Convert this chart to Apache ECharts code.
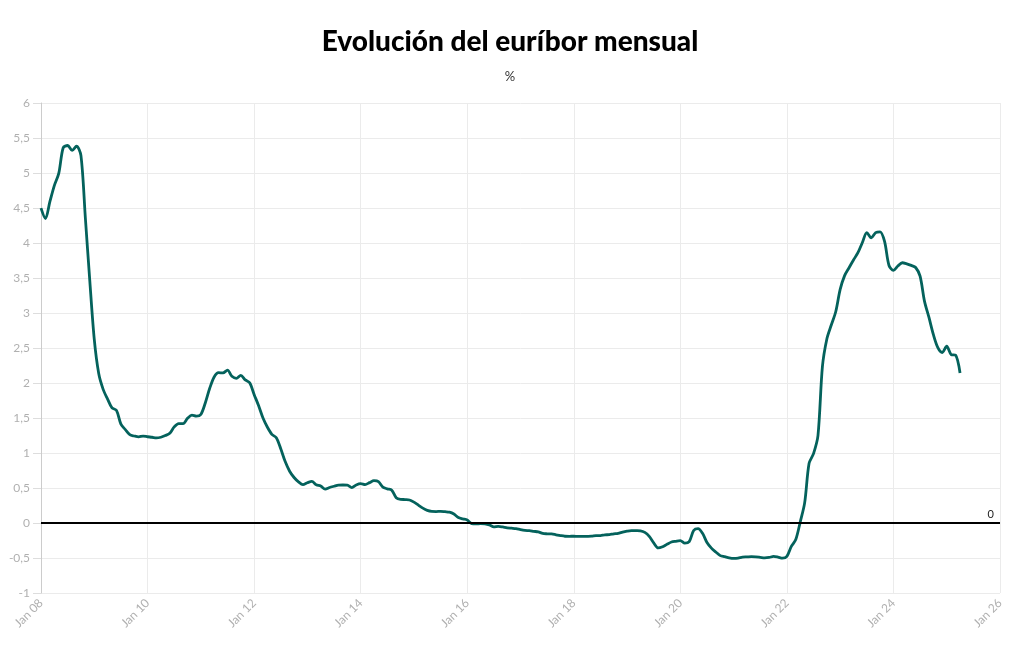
<!DOCTYPE html>
<html>
<head>
<meta charset="utf-8">
<script src="https://cdn.jsdelivr.net/npm/echarts@6/dist/echarts.min.js"></script>
<style>
  html, body { margin: 0; padding: 0; background: #fff; }
  #chart { width: 1020px; height: 650px; }
</style>
</head>
<body>
<div id="chart"></div>
<script>
// euríbor mensual, media de cada mes (%), enero a diciembre
let y2008 = [4.498, 4.349, 4.590, 4.820, 4.994, 5.361, 5.393, 5.323, 5.384, 5.248, 4.350, 3.452];
let y2009 = [2.622, 2.135, 1.909, 1.771, 1.644, 1.610, 1.412, 1.334, 1.261, 1.243, 1.231, 1.242];
let y2010 = [1.232, 1.225, 1.215, 1.225, 1.249, 1.281, 1.373, 1.421, 1.420, 1.495, 1.541, 1.526];
let y2011 = [1.550, 1.714, 1.924, 2.086, 2.147, 2.144, 2.183, 2.097, 2.067, 2.110, 2.044, 2.004];
let y2012 = [1.837, 1.678, 1.499, 1.368, 1.266, 1.219, 1.061, 0.877, 0.740, 0.650, 0.588, 0.549];
let y2013 = [0.575, 0.594, 0.545, 0.528, 0.484, 0.507, 0.525, 0.542, 0.543, 0.541, 0.506, 0.543];
let y2014 = [0.562, 0.549, 0.577, 0.604, 0.592, 0.513, 0.488, 0.469, 0.362, 0.338, 0.335, 0.329];
let y2015 = [0.298, 0.255, 0.212, 0.180, 0.165, 0.163, 0.167, 0.161, 0.154, 0.128, 0.079, 0.059];
let y2016 = [0.042, -0.008, -0.012, -0.010, -0.013, -0.028, -0.056, -0.048, -0.057, -0.069, -0.074, -0.080];
let y2017 = [-0.095, -0.106, -0.110, -0.119, -0.127, -0.149, -0.154, -0.156, -0.168, -0.180, -0.189, -0.190];
let y2018 = [-0.189, -0.191, -0.191, -0.190, -0.188, -0.181, -0.180, -0.169, -0.166, -0.154, -0.147, -0.129];
let y2019 = [-0.116, -0.108, -0.109, -0.112, -0.134, -0.190, -0.283, -0.356, -0.339, -0.304, -0.272, -0.261];
let y2020 = [-0.253, -0.288, -0.266, -0.108, -0.081, -0.147, -0.279, -0.359, -0.415, -0.466, -0.481, -0.497];
let y2021 = [-0.505, -0.501, -0.487, -0.484, -0.481, -0.484, -0.491, -0.498, -0.492, -0.477, -0.487, -0.502];
let y2022 = [-0.477, -0.335, -0.237, 0.013, 0.287, 0.852, 0.992, 1.249, 2.233, 2.629, 2.828, 3.018];
let y2023 = [3.337, 3.534, 3.647, 3.757, 3.862, 4.007, 4.149, 4.073, 4.149, 4.160, 4.022, 3.679];
let y2024 = [3.609, 3.671, 3.718, 3.703, 3.680, 3.650, 3.526, 3.166, 2.936, 2.691, 2.506, 2.436];
let y2025 = [2.525, 2.407, 2.398, 2.143];

let years = [
    [2008, y2008], [2009, y2009], [2010, y2010], [2011, y2011], [2012, y2012],
    [2013, y2013], [2014, y2014], [2015, y2015], [2016, y2016], [2017, y2017],
    [2018, y2018], [2019, y2019], [2020, y2020], [2021, y2021], [2022, y2022],
    [2023, y2023], [2024, y2024], [2025, y2025]
];

// x = año + mes/12 (el punto cae el día 1 de cada mes)
let points = [];
years.forEach(function (item) {
    item[1].forEach(function (v, m) {
        points.push([item[0] + m / 12, v]);
    });
});

let font = "Lato";

let chart = echarts.init(document.getElementById("chart"));
let option = {
    animation: false,
    textStyle: {
        fontFamily: font
    },
    title: {
        text: "Evolución del euríbor mensual",
        subtext: "%",
        left: "center",
        top: 23,
        itemGap: 14,
        textStyle: {
            fontFamily: font,
            fontSize: 28,
            fontWeight: 900,
            color: "#000"
        },
        subtextStyle: {
            fontFamily: font,
            fontSize: 13,
            color: "#333"
        }
    },
    grid: {
        left: 41,
        right: 20,
        top: 103,
        bottom: 57
    },
    xAxis: {
        type: "value",
        min: 2008,
        max: 2026,
        interval: 2,
        axisLine: {
            show: false
        },
        axisTick: {
            show: false
        },
        splitLine: {
            show: true,
            lineStyle: {
                color: "#ebebeb"
            }
        },
        axisLabel: {
            rotate: 45,
            color: "#b0b0b0",
            fontSize: 12,
            margin: 8,
            formatter: function (v) {
                return "Jan " + String(v).slice(2);
            }
        }
    },
    yAxis: {
        type: "value",
        min: -1,
        max: 6,
        interval: 0.5,
        axisLine: {
            show: true,
            lineStyle: {
                color: "#ccc"
            }
        },
        axisTick: {
            show: true,
            length: 8,
            lineStyle: {
                color: "#ddd"
            }
        },
        splitLine: {
            lineStyle: {
                color: "#ebebeb"
            }
        },
        axisLabel: {
            color: "#b0b0b0",
            fontSize: 12,
            margin: 11,
            formatter: function (v) {
                return String(v).replace(".", ",");
            }
        }
    },
    series: [
        {
            name: "Euríbor",
            type: "line",
            data: points,
            smooth: 0.3,
            showSymbol: false,
            lineStyle: {
                color: "#04625c",
                width: 2.8
            },
            markLine: {
                silent: true,
                symbol: "none",
                lineStyle: {
                    color: "#000",
                    width: 2,
                    type: "solid"
                },
                label: {
                    position: "insideEndTop",
                    formatter: "0",
                    color: "#222",
                    fontSize: 11,
                    distance: [6, 3]
                },
                data: [{ yAxis: 0 }]
            }
        }
    ]
};
chart.setOption(option);
</script>
</body>
</html>
